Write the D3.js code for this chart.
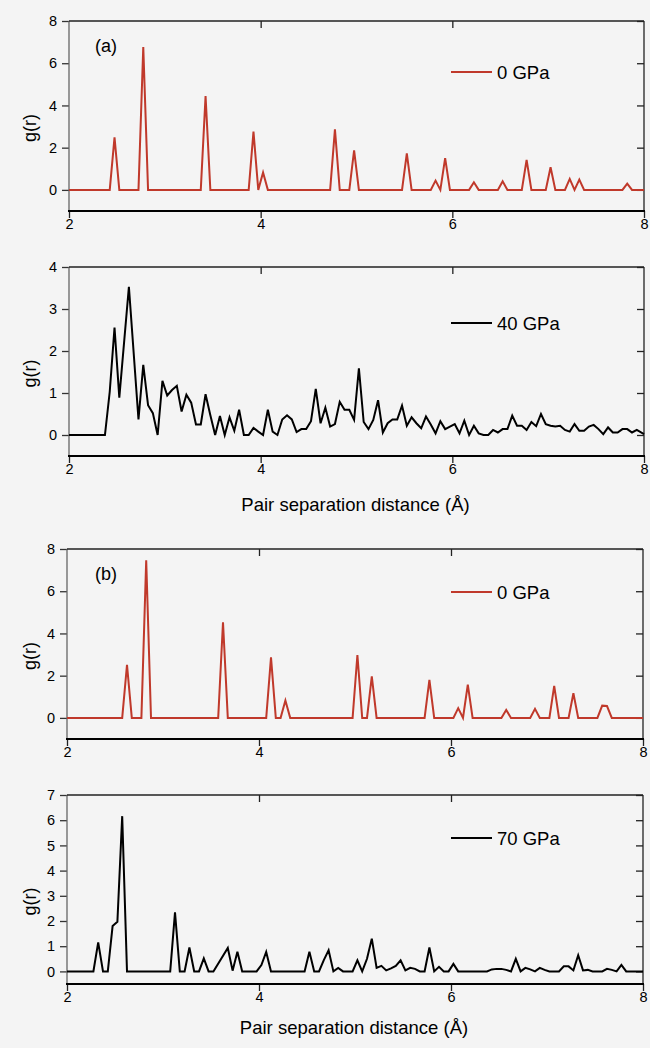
<!DOCTYPE html>
<html>
<head>
<meta charset="utf-8">
<script src="https://cdn.jsdelivr.net/npm/d3@7"></script>
<style>
  body { margin: 0; background: #f4f4f4; }
  svg { display: block; font-family: "Liberation Sans", Arial, sans-serif; }
</style>
</head>
<body>
<svg id="chart" width="650" height="1048"></svg>
<script>
// tick values
const xTicks = [2, 4, 6, 8]
const yTicks8 = [0, 2, 4, 6, 8]
const yTicks4 = [0, 1, 2, 3, 4]
const yTicks7 = [0, 1, 2, 3, 4, 5, 6, 7]

// g(r) curves, [r (Å), g(r)] vertices
const gA0 = [[2,0],[2.425,0],[2.475,2.49],[2.525,0],[2.725,0],[2.775,6.77],[2.825,0],[3.375,0],[3.425,4.44],[3.475,0],
  [3.875,0],[3.925,2.76],[3.975,0],[4.025,0.82],[4.075,0],[4.725,0],[4.775,2.87],[4.825,0],[4.925,0],[4.975,1.87],[5.025,0],
  [5.475,0],[5.525,1.73],[5.575,0],[5.775,0],[5.825,0.44],[5.875,0],[5.925,1.5],[5.975,0],[6.175,0],[6.225,0.36],[6.275,0],
  [6.475,0],[6.525,0.41],[6.575,0],[6.725,0],[6.775,1.42],[6.825,0],[6.975,0],[7.025,1.07],[7.075,0],[7.175,0],[7.225,0.52],
  [7.275,0],[7.325,0.49],[7.375,0],[7.775,0],[7.825,0.3],[7.875,0],[8,0]]

const gA40 = [[2,0],[2.375,0],[2.425,1.03],[2.475,2.56],[2.525,0.89],[2.625,3.53],[2.725,0.37],[2.775,1.67],[2.825,0.71],
  [2.875,0.52],[2.925,0],[2.975,1.29],[3.025,0.94],[3.075,1.07],[3.125,1.17],[3.175,0.56],[3.225,0.96],[3.275,0.77],[3.325,0.25],
  [3.375,0.25],[3.425,0.97],[3.475,0.47],[3.525,0],[3.575,0.45],[3.625,0],[3.675,0.42],[3.725,0.1],[3.775,0.6],[3.825,0],
  [3.875,0],[3.925,0.17],[3.975,0.08],[4.025,0],[4.075,0.6],[4.125,0.08],[4.175,0],[4.225,0.37],[4.275,0.47],[4.325,0.37],
  [4.375,0.07],[4.425,0.14],[4.475,0.14],[4.525,0.33],[4.575,1.1],[4.625,0.28],[4.675,0.65],[4.725,0.2],[4.775,0.26],
  [4.825,0.79],[4.875,0.6],[4.925,0.6],[4.975,0.36],[5.025,1.59],[5.075,0.31],[5.125,0.14],[5.175,0.36],[5.225,0.83],
  [5.275,0.06],[5.325,0.28],[5.375,0.37],[5.425,0.37],[5.475,0.7],[5.525,0.22],[5.575,0.42],[5.625,0.28],[5.675,0.16],
  [5.725,0.44],[5.775,0.25],[5.825,0.04],[5.875,0.33],[5.925,0.14],[5.975,0.2],[6.025,0.26],[6.075,0.04],[6.125,0.34],
  [6.175,0],[6.225,0.22],[6.275,0.04],[6.325,0],[6.375,0],[6.425,0.12],[6.475,0.06],[6.525,0.14],[6.575,0.14],[6.625,0.46],
  [6.675,0.22],[6.725,0.22],[6.775,0.12],[6.825,0.31],[6.875,0.21],[6.925,0.5],[6.975,0.26],[7.025,0.22],[7.075,0.2],
  [7.125,0.22],[7.175,0.12],[7.225,0.08],[7.275,0.26],[7.325,0.1],[7.375,0.1],[7.425,0.2],[7.475,0.24],[7.525,0.14],
  [7.575,0.02],[7.625,0.18],[7.675,0.06],[7.725,0.06],[7.775,0.14],[7.825,0.14],[7.875,0.06],[7.925,0.12],[8,0.02]]

const gB0 = [[2,0],[2.575,0],[2.625,2.51],[2.675,0],[2.775,0],[2.825,7.46],[2.875,0],[3.575,0],[3.625,4.53],[3.675,0],
  [4.075,0],[4.125,2.87],[4.175,0],[4.225,0],[4.275,0.82],[4.325,0],[4.975,0],[5.025,2.98],[5.075,0],[5.125,0],[5.175,1.97],
  [5.225,0],[5.725,0],[5.775,1.8],[5.825,0],[6.025,0],[6.075,0.46],[6.125,0],[6.175,1.58],[6.225,0],[6.525,0],[6.575,0.38],
  [6.625,0],[6.825,0],[6.875,0.43],[6.925,0],[7.025,0],[7.075,1.52],[7.125,0],[7.225,0],[7.275,1.17],[7.325,0],[7.525,0],
  [7.575,0.58],[7.625,0.56],[7.675,0],[8,0]]

const gB70 = [[2,0],[2.275,0],[2.325,1.15],[2.375,0],[2.425,0],[2.475,1.8],[2.525,1.97],[2.575,6.16],[2.625,0],[3.075,0],
  [3.125,2.34],[3.175,0],[3.225,0],[3.275,0.95],[3.325,0],[3.375,0],[3.425,0.52],[3.475,0],[3.525,0],[3.675,0.93],[3.725,0.03],
  [3.775,0.78],[3.825,0],[3.975,0],[4.025,0.25],[4.075,0.77],[4.125,0],[4.475,0],[4.525,0.78],[4.575,0],[4.625,0],[4.675,0.45],
  [4.725,0.84],[4.775,0],[4.825,0.14],[4.875,0],[4.975,0],[5.025,0.44],[5.075,0],[5.125,0.5],[5.175,1.3],[5.225,0.14],
  [5.275,0.22],[5.325,0.04],[5.375,0.12],[5.425,0.22],[5.475,0.44],[5.525,0.04],[5.575,0.14],[5.625,0.1],[5.675,0],[5.725,0],
  [5.775,0.95],[5.825,0],[5.875,0.18],[5.925,0],[5.975,0],[6.025,0.3],[6.075,0],[6.375,0],[6.425,0.08],[6.475,0.1],[6.525,0.1],
  [6.575,0.06],[6.625,0],[6.675,0.5],[6.725,0],[6.775,0.14],[6.825,0.08],[6.875,0],[6.925,0.14],[6.975,0.06],[7.025,0],
  [7.125,0],[7.175,0.2],[7.225,0.2],[7.275,0.04],[7.325,0.64],[7.375,0.04],[7.425,0.06],[7.475,0],[7.575,0],[7.625,0.1],
  [7.675,0.06],[7.725,0],[7.775,0.26],[7.825,0],[8,0]]

const red = "#c0392b"
const svg = d3.select("#chart")

const panels = [
  {data: gA0, name: "0 GPa", color: red, yDomain: [-1, 8], yTicks: yTicks8, top: 21, bottom: 211, left: 69, right: 644, tag: "(a)", legendY: 72},
  {data: gA40, name: "40 GPa", color: "#000", yDomain: [-0.5, 4], yTicks: yTicks4, top: 267, bottom: 456, left: 69, right: 644, legendY: 323, title: 511},
  {data: gB0, name: "0 GPa", color: red, yDomain: [-1, 8], yTicks: yTicks8, top: 549, bottom: 739, left: 67, right: 643, tag: "(b)", legendY: 592},
  {data: gB70, name: "70 GPa", color: "#000", yDomain: [-0.5, 7], yTicks: yTicks7, top: 795, bottom: 984, left: 67, right: 643, legendY: 838, title: 1034}
]

const styleAxis = (sel, color) => {
  sel.select(".domain").remove()
  sel.selectAll(".tick line").attr("stroke", color).attr("stroke-width", 1.3)
  sel.selectAll(".tick text").attr("fill", "#000").attr("font-size", 14.5)
  sel.attr("font-family", null)
}

panels.forEach(p => {
  const x = d3.scaleLinear().domain([2, 8]).range([p.left, p.right])
  const y = d3.scaleLinear().domain(p.yDomain).range([p.bottom, p.top])
  const g = svg.append("g")

  // axes, ticks like the original: left/bottom out, top/right in
  g.append("g").attr("transform", `translate(${p.left},0)`)
    .call(d3.axisLeft(y).tickValues(p.yTicks).tickSize(7).tickPadding(5).tickFormat(d3.format("d")))
    .call(s => styleAxis(s, "#333"))
  g.append("g").attr("transform", `translate(${p.right},0)`)
    .call(d3.axisRight(y).tickValues(p.yTicks).tickSize(-7).tickFormat(""))
    .call(s => styleAxis(s, "#222"))
  g.append("g").attr("transform", `translate(0,${p.top})`)
    .call(d3.axisTop(x).tickValues(xTicks.slice(1, -1)).tickSize(-7).tickFormat(""))
    .call(s => styleAxis(s, "#222"))
  g.append("g").attr("transform", `translate(0,${p.bottom})`)
    .call(d3.axisBottom(x).tickValues(xTicks).tickSize(7).tickPadding(1).tickFormat(d3.format("d")))
    .call(s => styleAxis(s, "#222"))

  // frame
  g.append("line").attr("x1", p.left).attr("x2", p.left).attr("y1", p.top).attr("y2", p.bottom)
    .attr("stroke", "#666").attr("stroke-width", 1.3)
  g.append("line").attr("x1", p.right).attr("x2", p.right).attr("y1", p.top).attr("y2", p.bottom)
    .attr("stroke", "#222").attr("stroke-width", 1.3)
  g.append("line").attr("x1", p.left).attr("x2", p.right).attr("y1", p.top).attr("y2", p.top)
    .attr("stroke", "#222").attr("stroke-width", 1.5)
  g.append("line").attr("x1", p.left - 1).attr("x2", p.right + 1).attr("y1", p.bottom).attr("y2", p.bottom)
    .attr("stroke", "#000").attr("stroke-width", 2)

  const line = d3.line().x(d => x(d[0])).y(d => y(d[1]))
  g.append("path").datum(p.data)
    .attr("d", line)
    .attr("fill", "none")
    .attr("stroke", p.color)
    .attr("stroke-width", 2)

  // legend
  g.append("line").attr("x1", 451).attr("x2", 492).attr("y1", p.legendY).attr("y2", p.legendY)
    .attr("stroke", p.color).attr("stroke-width", 2)
  g.append("text").attr("x", 497).attr("y", p.legendY + 6.5)
    .attr("font-size", 18.5).attr("fill", "#000").text(p.name)

  g.append("text")
    .attr("transform", `translate(36,${(p.top + p.bottom) / 2 + 12}) rotate(-90)`)
    .attr("text-anchor", "middle").attr("font-size", 18).attr("fill", "#000")
    .text("g(r)")

  if (p.tag) {
    g.append("text").attr("x", 95).attr("y", p.top + 31)
      .attr("font-size", 18).attr("fill", "#000").text(p.tag)
  }
  if (p.title) {
    g.append("text").attr("x", (p.left + p.right) / 2 - 1).attr("y", p.title)
      .attr("text-anchor", "middle").attr("font-size", 18.5).attr("fill", "#000")
      .text("Pair separation distance (Å)")
  }
})
</script>
</body>
</html>
